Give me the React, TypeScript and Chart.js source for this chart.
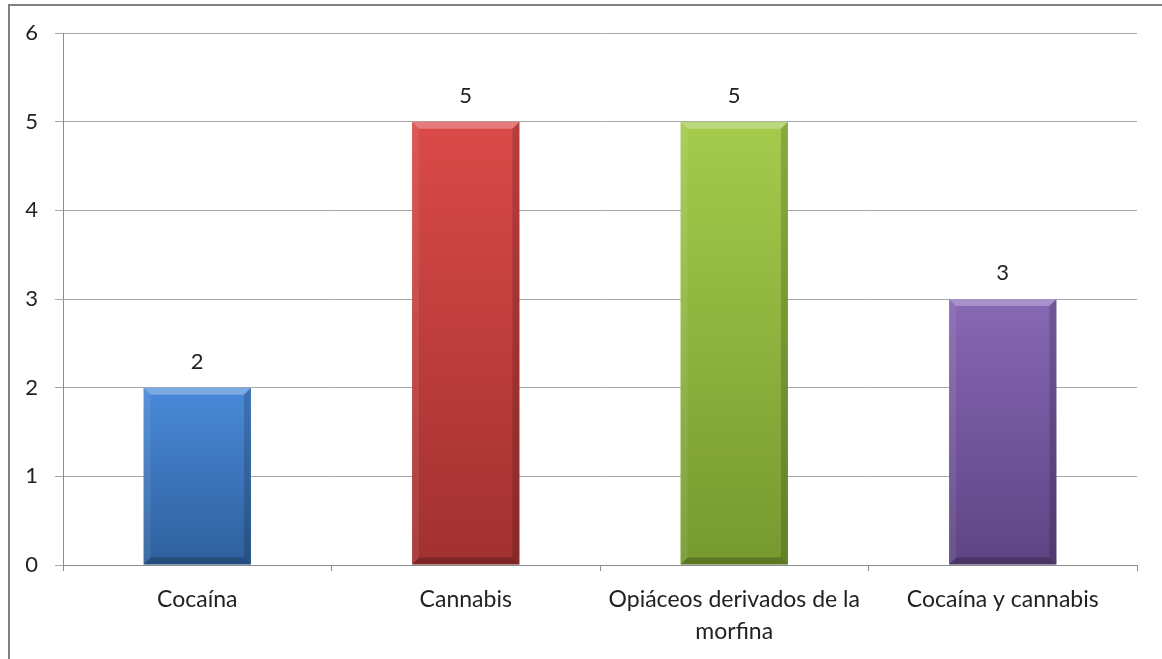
import React, { useEffect, useRef } from "react";
import { Chart, registerables } from "chart.js";

Chart.register(...registerables);

const categories: (string | string[])[] = [
  "Cocaína",
  "Cannabis",
  ["Opiáceos derivados de la", "morfina"],
  "Cocaína y cannabis",
];
const values: number[] = [2, 5, 5, 3];
const yTicks: number[] = [0, 1, 2, 3, 4, 5, 6];
const barTop: string[] = ["#4A8AD9", "#DA4A48", "#A4CB4C", "#8768B4"];
const barBottom: string[] = ["#2F609C", "#A13130", "#76992F", "#5E4484"];

const FONT = "Lato, 'Open Sans', sans-serif";

const bevelPlugin = {
  id: "bevel",
  afterDatasetsDraw(chart: any) {
    const ctx = chart.ctx;
    const meta = chart.getDatasetMeta(0);
    meta.data.forEach((bar: any, i: number) => {
      const w = bar.width;
      const x0 = bar.x - w / 2;
      const x1 = bar.x + w / 2;
      const y0 = bar.y;
      const y1 = bar.base;
      const b = 7;
      ctx.save();
      ctx.beginPath();
      ctx.moveTo(x0, y0);
      ctx.lineTo(x1, y0);
      ctx.lineTo(x1 - b, y0 + b);
      ctx.lineTo(x0 + b, y0 + b);
      ctx.closePath();
      ctx.fillStyle = "rgba(255,255,255,0.28)";
      ctx.fill();
      ctx.beginPath();
      ctx.moveTo(x0, y0);
      ctx.lineTo(x0 + b, y0 + b);
      ctx.lineTo(x0 + b, y1 - b);
      ctx.lineTo(x0, y1);
      ctx.closePath();
      ctx.fillStyle = "rgba(255,255,255,0.08)";
      ctx.fill();
      ctx.beginPath();
      ctx.moveTo(x1, y0);
      ctx.lineTo(x1 - b, y0 + b);
      ctx.lineTo(x1 - b, y1 - b);
      ctx.lineTo(x1, y1);
      ctx.closePath();
      ctx.fillStyle = "rgba(0,0,0,0.16)";
      ctx.fill();
      ctx.beginPath();
      ctx.moveTo(x0, y1);
      ctx.lineTo(x0 + b, y1 - b);
      ctx.lineTo(x1 - b, y1 - b);
      ctx.lineTo(x1, y1);
      ctx.closePath();
      ctx.fillStyle = "rgba(0,0,0,0.22)";
      ctx.fill();
      ctx.restore();
      ctx.save();
      ctx.fillStyle = "#222";
      ctx.font = `22px ${FONT}`;
      ctx.textAlign = "center";
      ctx.textBaseline = "middle";
      ctx.fillText(String(values[i]), bar.x, y0 - 26);
      ctx.restore();
    });
  },
};

export default function App() {
  const ref = useRef<HTMLCanvasElement>(null);
  useEffect(() => {
    const canvas = ref.current!;
    const chart = new Chart(canvas, {
      type: "bar",
      data: {
        labels: categories,
        datasets: [
          {
            data: values,
            backgroundColor: (c: any) => {
              const ch = c.chart;
              const area = ch.chartArea;
              const ys = ch.scales && ch.scales.y;
              if (!area || !ys) return barTop[c.dataIndex];
              const top = ys.getPixelForValue(values[c.dataIndex]);
              if (!isFinite(top) || !isFinite(area.bottom)) return barTop[c.dataIndex];
              const g = ch.ctx.createLinearGradient(0, top, 0, area.bottom);
              g.addColorStop(0, barTop[c.dataIndex]);
              g.addColorStop(1, barBottom[c.dataIndex]);
              return g;
            },
            borderWidth: 0,
            barPercentage: 0.4,
            categoryPercentage: 1,
          },
        ],
      },
      options: {
        animation: false,
        responsive: false,
        maintainAspectRatio: false,
        layout: { padding: { top: 33, right: 25, left: 0, bottom: 0 } },
        plugins: { legend: { display: false }, tooltip: { enabled: false } },
        scales: {
          x: {
            offset: true,
            grid: {
              offset: true,
              drawOnChartArea: false,
              tickLength: 6,
              color: "#8c8c8c",
            },
            border: { color: "#8c8c8c" },
            ticks: {
              color: "#222",
              font: { family: FONT, size: 23, lineHeight: 1.4 },
              padding: 12,
              maxRotation: 0,
              autoSkip: false,
            },
            afterFit: (s: any) => {
              s.height = 659 - 565;
            },
          },
          y: {
            min: 0,
            max: 6,
            afterBuildTicks: (s: any) => {
              s.ticks = yTicks.map((v) => ({ value: v }));
            },
            grid: { color: "#a6a6a6", tickLength: 8 },
            border: { color: "#8c8c8c" },
            ticks: {
              color: "#222",
              font: { family: FONT, size: 22 },
              padding: 17,
            },
            afterFit: (s: any) => {
              s.width = 63;
            },
          },
        },
      },
      plugins: [bevelPlugin],
    });
    return () => chart.destroy();
  }, []);
  return (
    <div
      style={{
        position: "fixed",
        left: 0,
        top: 0,
        width: 1162,
        height: 659,
        background: "#fff",
      }}
    >
      <div
        style={{
          position: "absolute",
          left: 8,
          top: 4,
          width: 1200,
          height: 700,
          borderTop: "2px solid #808080",
          borderLeft: "2px solid #808080",
        }}
      />
      <canvas
        ref={ref}
        width={1162}
        height={659}
        style={{ position: "absolute", left: 0, top: 0, width: 1162, height: 659 }}
      />
    </div>
  );
}
